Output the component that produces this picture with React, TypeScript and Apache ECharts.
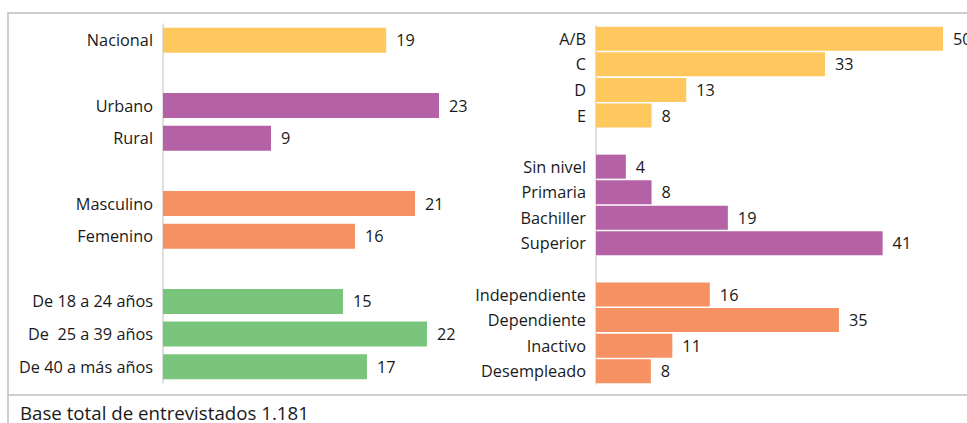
import React, { useEffect, useRef } from "react";
import * as echarts from "echarts";

const leftCategories = ["Nacional", "", "Urbano", "Rural", "", "Masculino", "Femenino", "", "De 18 a 24 años", "De  25 a 39 años", "De 40 a más años"];
const leftValues = [18.6, null, 23, 9, null, 21, 16, null, 15, 22, 17];
const leftGroups = [0, -1, 1, 1, -1, 2, 2, -1, 3, 3, 3];

const rightCategories = ["A/B", "C", "D", "E", "", "Sin nivel", "Primaria", "Bachiller", "Superior", "", "Independiente", "Dependiente", "Inactivo", "Desempleado"];
const rightValues = [50, 33, 13, 8, null, 4.3, 8, 19, 41.3, null, 16.4, 35, 11, 7.9];
const rightGroups = [0, 0, 0, 0, -1, 1, 1, 1, 1, -1, 2, 2, 2, 2];

const groupColors = ["#FFC85F", "#B462A5", "#F69163", "#78C57B"];
const footerText = "Base total de entrevistados 1.181";

const FONT = "'Open Sans'";

function buildData(values: (number | null)[], groups: number[]) {
  return values.map((v, i) =>
    v === null ? { value: null } : { value: v, itemStyle: { color: groupColors[groups[i]] } }
  );
}

export default function App() {
  const ref = useRef<HTMLDivElement>(null);
  useEffect(() => {
    if (!ref.current) return;
    const chart = echarts.init(ref.current, null, { renderer: "svg" });
    const label = {
      show: true,
      position: "right",
      distance: 10,
      color: "#1a1a1a",
      fontFamily: FONT,
      fontSize: 16.3,
      formatter: (p: any) => (p.value == null ? "" : String(Math.round(p.value))),
    };
    const yCommon = {
      type: "category",
      inverse: true,
      axisTick: { show: false },
      axisLine: { show: true, lineStyle: { color: "#D4D4D4", width: 1.5 } },
      axisLabel: { color: "#1a1a1a", fontFamily: FONT, fontSize: 16.3, margin: 10 },
      splitLine: { show: false },
    };
    chart.setOption({
      animation: false,
      backgroundColor: "#ffffff",
      grid: [
        { left: 163, top: 24, width: 360, height: 359 },
        { left: 596, top: 26, width: 347, height: 358 },
      ],
      xAxis: [
        { type: "value", gridIndex: 0, min: 0, max: 30, show: false },
        { type: "value", gridIndex: 1, min: 0, max: 50, show: false },
      ],
      yAxis: [
        { ...yCommon, gridIndex: 0, data: leftCategories },
        { ...yCommon, gridIndex: 1, data: rightCategories },
      ],
      series: [
        {
          type: "bar",
          xAxisIndex: 0,
          yAxisIndex: 0,
          barWidth: 25,
          data: buildData(leftValues, leftGroups),
          label,
        },
        {
          type: "bar",
          xAxisIndex: 1,
          yAxisIndex: 1,
          barWidth: 24,
          data: buildData(rightValues, rightGroups),
          label,
        },
      ],
      graphic: [
        {
          type: "rect",
          shape: { x: 8, y: 13, width: 1000, height: 500 },
          style: { fill: "none", stroke: "#BFBFBF", lineWidth: 1.5 },
          silent: true,
        },
        {
          type: "line",
          shape: { x1: 8, y1: 395, x2: 1000, y2: 395 },
          style: { stroke: "#BFBFBF", lineWidth: 1.5 },
          silent: true,
        },
        {
          type: "text",
          x: 20,
          y: 412,
          style: {
            text: footerText,
            fill: "#1a1a1a",
            font: `18.7px ${FONT}`,
            verticalAlign: "middle",
          },
          silent: true,
        },
      ],
    });
    return () => chart.dispose();
  }, []);
  return (
    <div
      ref={ref}
      style={{ position: "fixed", left: 0, top: 0, width: 967, height: 423 }}
    />
  );
}
